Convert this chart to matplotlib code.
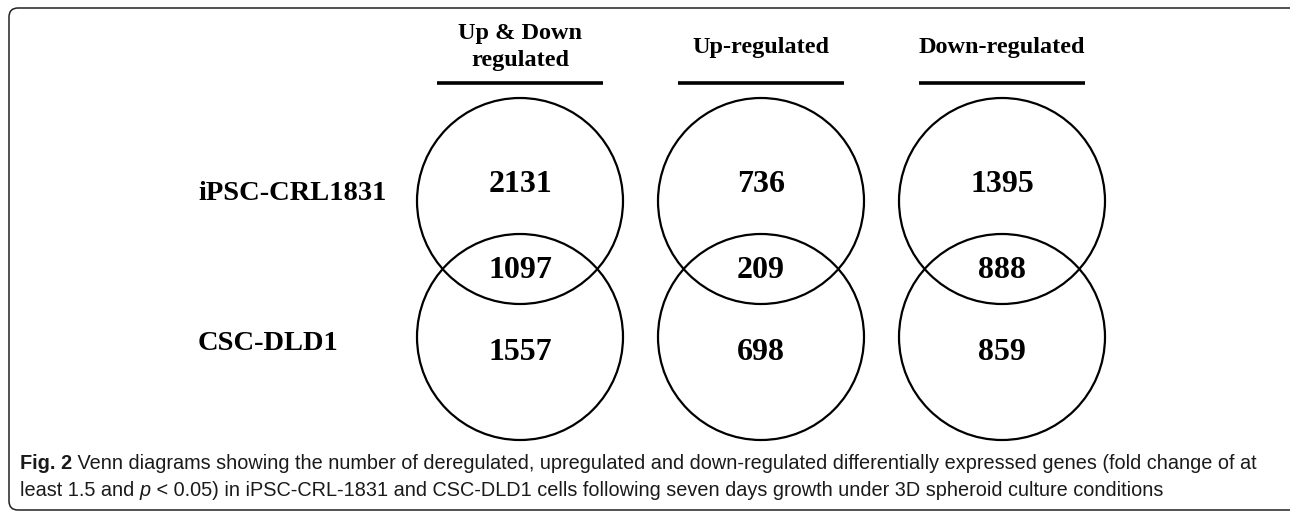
import matplotlib
matplotlib.use("Agg")
import matplotlib.pyplot as plt
from matplotlib.patches import Circle, FancyBboxPatch

# data
headers = ["Up & Down\nregulated", "Up-regulated", "Down-regulated"]
row_labels = ["iPSC-CRL1831", "CSC-DLD1"]
top_only = [2131, 736, 1395]
overlap = [1097, 209, 888]
bottom_only = [1557, 698, 859]

caption_line1 = [("Fig. 2", "bold", "normal"),
                 (" Venn diagrams showing the number of deregulated, upregulated and down-regulated "
                  "differentially expressed genes (fold change of at", "normal", "normal")]
caption_line2 = [("least 1.5 and ", "normal", "normal"),
                 ("p", "normal", "italic"),
                 (" < 0.05) in iPSC-CRL-1831 and CSC-DLD1 cells following seven days growth under "
                  "3D spheroid culture conditions", "normal", "normal")]

serif = ["Liberation Serif", "DejaVu Serif"]
sans = ["Liberation Sans Narrow", "Liberation Sans", "DejaVu Sans"]

fig = plt.figure(figsize=(12.9, 5.15), dpi=100)
ax = fig.add_axes([0, 0, 1, 1])
ax.set_xlim(0, 1290)
ax.set_ylim(515, 0)
ax.axis("off")

# frame round the figure
frame = FancyBboxPatch((9, 8), 1295, 502, boxstyle="round,pad=0,rounding_size=9",
                       fc="none", ec="#222222", lw=1.1)
ax.add_patch(frame)

x0, dx = 520, 241
y_top, y_bot, r = 201, 337, 103

for i, h in enumerate(headers):
    cx = x0 + i * dx
    ax.text(cx, 47, h, ha="center", va="center", family=serif, weight="bold",
            fontsize=17.5, linespacing=1.35)
    ax.plot([cx - 83, cx + 83], [83, 83], color="black", lw=2.6, solid_capstyle="butt")
    ax.add_patch(Circle((cx, y_top), r, fc="none", ec="black", lw=1.6))
    ax.add_patch(Circle((cx, y_bot), r, fc="none", ec="black", lw=1.6))
    for val, y in zip([top_only[i], overlap[i], bottom_only[i]], [185, 270, 353]):
        ax.text(cx, y, str(val), ha="center", va="center", family=serif,
                weight="bold", fontsize=23)

for lab, y in zip(row_labels, [194, 343]):
    ax.text(198, y, lab, ha="left", va="center", family=serif, weight="bold", fontsize=20.5)

# caption, pieces placed one after another
def caption(parts, y):
    prev = None
    for s, w, st in parts:
        kw = dict(family=sans, weight=w, style=st, fontsize=14.3, va="baseline", ha="left",
                  color="#1a1a1a")
        if prev is None:
            prev = ax.text(20, y, s, **kw)
        else:
            prev = ax.annotate(s, xy=(1, 0), xycoords=prev, xytext=(0, 0),
                               textcoords="offset points", **{**kw, "va": "bottom"})

caption(caption_line1, 469)
caption(caption_line2, 496)

fig.savefig("out.png", dpi=100)
